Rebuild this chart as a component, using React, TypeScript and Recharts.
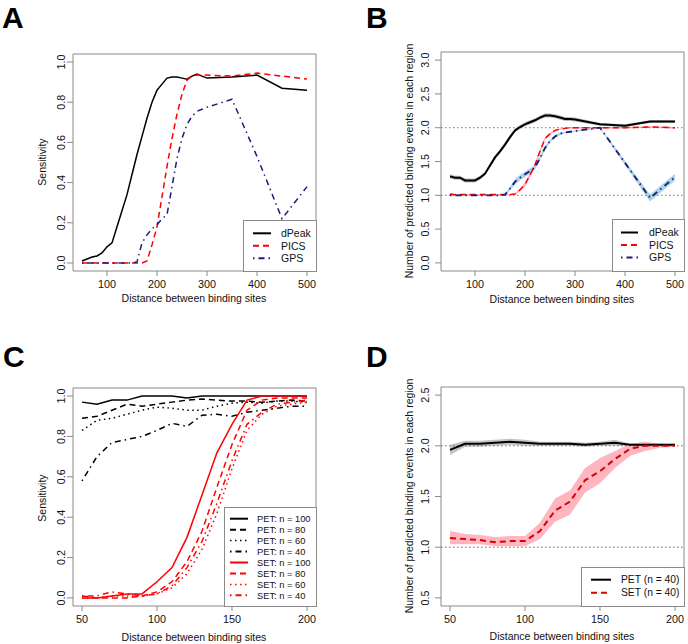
import React from "react";
import {
  ComposedChart,
  Line,
  Area,
  XAxis,
  YAxis,
  ReferenceArea,
  ReferenceLine,
} from "recharts";

const FONT = '"Liberation Sans", Arial, Helvetica, sans-serif';

// ---- panels A / B: distance 50..500 ----
const distAB = [50, 60, 70, 80, 90, 100, 110, 120, 130, 140, 150, 160, 170, 180, 190, 200, 210, 220, 230, 240, 250, 260, 270, 280, 290, 300, 350, 400, 450, 500];

const sensDPeak = [0.01, 0.02, 0.03, 0.035, 0.05, 0.08, 0.1, 0.18, 0.26, 0.34, 0.44, 0.54, 0.63, 0.72, 0.8, 0.86, 0.89, 0.92, 0.925, 0.925, 0.92, 0.915, 0.93, 0.94, 0.93, 0.92, 0.925, 0.935, 0.87, 0.86];
const sensPICS = [0, 0, 0, 0, 0, 0, 0, 0, 0, 0, 0, 0, 0, 0.01, 0.09, 0.18, 0.33, 0.48, 0.62, 0.74, 0.84, 0.91, 0.93, 0.935, 0.935, 0.935, 0.93, 0.945, 0.93, 0.915];
const sensGPS = [0, 0, 0, 0, 0, 0, 0, 0, 0, 0, 0, 0.005, 0.1, 0.14, 0.17, 0.19, 0.22, 0.24, 0.38, 0.52, 0.62, 0.69, 0.73, 0.755, 0.765, 0.775, 0.815, 0.53, 0.22, 0.38];

const numDPeak = [1.28, 1.26, 1.26, 1.22, 1.22, 1.22, 1.26, 1.32, 1.44, 1.56, 1.65, 1.75, 1.86, 1.96, 2.01, 2.05, 2.08, 2.11, 2.15, 2.18, 2.18, 2.17, 2.15, 2.13, 2.13, 2.12, 2.05, 2.03, 2.09, 2.09];
const numDPeakLo = [1.25, 1.23, 1.23, 1.19, 1.19, 1.19, 1.23, 1.29, 1.41, 1.53, 1.62, 1.72, 1.83, 1.93, 1.98, 2.02, 2.05, 2.08, 2.12, 2.15, 2.15, 2.14, 2.12, 2.1, 2.1, 2.09, 2.03, 2.01, 2.07, 2.07];
const numDPeakHi = [1.31, 1.29, 1.29, 1.25, 1.25, 1.25, 1.29, 1.35, 1.47, 1.59, 1.68, 1.78, 1.89, 1.99, 2.04, 2.08, 2.11, 2.14, 2.18, 2.21, 2.21, 2.2, 2.18, 2.16, 2.16, 2.15, 2.07, 2.05, 2.11, 2.11];
const numPICS = [1.02, 1.01, 1.01, 1.01, 1.01, 1.01, 1.01, 1.01, 1.01, 1.01, 1.01, 1.01, 1.01, 1.02, 1.08, 1.16, 1.3, 1.45, 1.65, 1.84, 1.91, 1.96, 1.98, 1.99, 2.0, 2.0, 2.0, 2.0, 2.01, 2.0];
const numPICSLo = [1.01, 1.0, 1.0, 1.0, 1.0, 1.0, 1.0, 1.0, 1.0, 1.0, 1.0, 1.0, 1.0, 1.01, 1.06, 1.13, 1.27, 1.42, 1.62, 1.82, 1.89, 1.95, 1.97, 1.98, 1.99, 1.99, 1.99, 1.99, 2.0, 1.99];
const numPICSHi = [1.03, 1.02, 1.02, 1.02, 1.02, 1.02, 1.02, 1.02, 1.02, 1.02, 1.02, 1.02, 1.02, 1.03, 1.1, 1.19, 1.33, 1.48, 1.68, 1.86, 1.93, 1.97, 1.99, 2.0, 2.01, 2.01, 2.01, 2.01, 2.02, 2.01];
const numGPS = [1.0, 1.0, 1.0, 1.0, 1.0, 1.0, 1.0, 1.0, 1.0, 1.0, 1.0, 1.01, 1.1, 1.2, 1.26, 1.31, 1.36, 1.41, 1.55, 1.7, 1.8, 1.87, 1.91, 1.93, 1.94, 1.95, 2.0, 1.48, 0.96, 1.27];
const numGPSLo = [0.99, 0.99, 0.99, 0.99, 0.99, 0.99, 0.99, 0.99, 0.99, 0.99, 0.99, 1.0, 1.07, 1.16, 1.22, 1.27, 1.32, 1.38, 1.52, 1.67, 1.78, 1.85, 1.89, 1.92, 1.93, 1.94, 1.99, 1.45, 0.91, 1.22];
const numGPSHi = [1.01, 1.01, 1.01, 1.01, 1.01, 1.01, 1.01, 1.01, 1.01, 1.01, 1.01, 1.02, 1.13, 1.24, 1.3, 1.35, 1.4, 1.44, 1.58, 1.73, 1.82, 1.89, 1.93, 1.94, 1.95, 1.96, 2.01, 1.51, 1.01, 1.32];

// ---- panels C / D: distance 50..200 ----
const distCD = [50, 60, 70, 80, 90, 100, 110, 120, 130, 140, 150, 160, 170, 180, 190, 200];

const pet100 = [0.97, 0.96, 0.98, 0.98, 1.0, 1.0, 1.0, 0.99, 1.0, 1.0, 1.0, 1.0, 1.0, 1.0, 1.0, 1.0];
const pet80 = [0.89, 0.9, 0.93, 0.96, 0.95, 0.96, 0.97, 0.98, 0.985, 0.98, 0.975, 0.975, 0.97, 0.975, 0.98, 0.975];
const pet60 = [0.83, 0.88, 0.89, 0.91, 0.93, 0.945, 0.94, 0.93, 0.93, 0.95, 0.965, 0.97, 0.965, 0.975, 0.975, 0.97];
const pet40 = [0.58, 0.7, 0.77, 0.785, 0.8, 0.83, 0.865, 0.85, 0.905, 0.91, 0.9, 0.92, 0.93, 0.94, 0.95, 0.95];
const set100 = [0.0, 0.0, 0.01, 0.02, 0.02, 0.08, 0.15, 0.3, 0.51, 0.72, 0.86, 0.98, 1.0, 1.0, 1.0, 1.0];
const set80 = [0.01, 0.0, 0.0, 0.0, 0.01, 0.03, 0.08, 0.18, 0.33, 0.55, 0.76, 0.93, 0.98, 0.99, 0.99, 0.99];
const set60 = [0.0, 0.0, 0.01, 0.01, 0.01, 0.02, 0.05, 0.12, 0.24, 0.42, 0.64, 0.83, 0.91, 0.95, 0.96, 0.97];
const set40 = [0.01, 0.01, 0.03, 0.02, 0.01, 0.02, 0.06, 0.15, 0.28, 0.47, 0.68, 0.86, 0.92, 0.96, 0.97, 0.98];

const petMean = [1.96, 2.02, 2.02, 2.03, 2.04, 2.03, 2.02, 2.02, 2.02, 2.01, 2.02, 2.03, 2.01, 2.01, 2.01, 2.01];
const petLo = [1.91, 1.99, 1.99, 2.0, 2.01, 2.0, 2.0, 2.0, 2.0, 1.99, 2.0, 2.0, 2.0, 2.0, 2.0, 2.0];
const petHi = [2.01, 2.05, 2.05, 2.06, 2.07, 2.06, 2.04, 2.04, 2.04, 2.03, 2.04, 2.06, 2.02, 2.02, 2.02, 2.02];
const setMean = [1.09, 1.08, 1.07, 1.05, 1.06, 1.06, 1.16, 1.36, 1.45, 1.66, 1.75, 1.87, 1.97, 2.0, 2.0, 2.0];
const setLo = [1.03, 1.03, 1.03, 1.01, 1.01, 1.01, 1.08, 1.25, 1.32, 1.54, 1.63, 1.78, 1.9, 1.95, 1.98, 1.99];
const setHi = [1.16, 1.13, 1.12, 1.1, 1.11, 1.11, 1.24, 1.48, 1.56, 1.78, 1.88, 1.95, 2.02, 2.04, 2.02, 2.01];

// ---- ticks ----
const ticksXAB = [100, 200, 300, 400, 500];
const ticksXCD = [50, 100, 150, 200];
const ticksSens = [0, 0.2, 0.4, 0.6, 0.8, 1.0];
const ticksNumB = [0, 0.5, 1, 1.5, 2, 2.5, 3];
const ticksNumD = [0.5, 1, 1.5, 2, 2.5];

const dataA = distAB.map((x, i) => ({ x, dPeak: sensDPeak[i], PICS: sensPICS[i], GPS: sensGPS[i] }));
const dataB = distAB.map((x, i) => ({
  x,
  dPeak: numDPeak[i],
  dPeakBand: [numDPeakLo[i], numDPeakHi[i]],
  PICS: numPICS[i],
  PICSBand: [numPICSLo[i], numPICSHi[i]],
  GPS: numGPS[i],
  GPSBand: [numGPSLo[i], numGPSHi[i]],
}));
const dataC = distCD.map((x, i) => ({
  x, p100: pet100[i], p80: pet80[i], p60: pet60[i], p40: pet40[i],
  s100: set100[i], s80: set80[i], s60: set60[i], s40: set40[i],
}));
const dataD = distCD.map((x, i) => ({
  x, pet: petMean[i], petBand: [petLo[i], petHi[i]], set: setMean[i], setBand: [setLo[i], setHi[i]],
}));

const BLACK = "#000";
const RED = "#ff0000";
const NAVY = "#1c1c80";
const BOX = "#8a8a8a";
const DASH = "6 4";
const DOT = "1.5 3.5";
const DOTDASH = "1.5 4 6 4";

const YTick = (props: any) => {
  const { x, y, payload } = props;
  return (
    <text x={x} y={y} transform={`rotate(-90 ${x} ${y})`} textAnchor="middle" fontSize={10.8} fill="#111" fontFamily={FONT}>
      {Number(payload.value).toFixed(1)}
    </text>
  );
};

type LegendItem = { label: string; color: string; dash?: string; width: number };
type OverlayProps = {
  letter: string;
  letterX: number;
  letterY: number;
  xTitleX: number;
  xTitleY: number;
  yTitle: string;
  yTitleX: number;
  yTitleY: number;
  legend: { left: number; top: number; width: number; height: number; row0: number; step: number; s1: number; s2: number; tx: number; fontSize: number; items: LegendItem[] };
};

function Overlay(p: OverlayProps) {
  const L = p.legend;
  return (
    <svg width={344} height={322} style={{ position: "absolute", left: 0, top: 0, pointerEvents: "none" }} fontFamily={FONT}>
      <text x={p.letterX} y={p.letterY} fontSize={30} fontWeight="bold" fill="#000">{p.letter}</text>
      <text x={p.xTitleX} y={p.xTitleY} fontSize={10.5} textAnchor="middle" fill="#111">Distance between binding sites</text>
      <text x={p.yTitleX} y={p.yTitleY} transform={`rotate(-90 ${p.yTitleX} ${p.yTitleY})`} fontSize={10.5} textAnchor="middle" fill="#111">{p.yTitle}</text>
      <rect x={L.left + 0.5} y={L.top + 0.5} width={L.width} height={L.height} fill="#fff" stroke={BOX} strokeWidth={1} />
      {L.items.map((it, i) => {
        const y = L.row0 + i * L.step;
        return (
          <g key={it.label}>
            <line x1={L.s1} x2={L.s2} y1={y} y2={y} stroke={it.color} strokeWidth={it.width} strokeDasharray={it.dash} />
            <text x={L.tx} y={y + L.fontSize * 0.36} fontSize={L.fontSize} fill="#111">{it.label}</text>
          </g>
        );
      })}
    </svg>
  );
}

const xAxisProps = {
  dataKey: "x",
  type: "number" as const,
  axisLine: false,
  tickLine: { stroke: BOX },
  tickSize: 5,
  tickMargin: 4,
  tick: { fontSize: 10.8, fill: "#111", fontFamily: FONT },
  interval: 0 as const,
};

function PanelA() {
  return (
    <div style={{ position: "absolute", left: 0, top: 0, width: 344, height: 322 }}>
      <ComposedChart width={344} height={322} data={dataA} margin={{ top: 54, right: 28, bottom: 0, left: 0 }}>
        <XAxis {...xAxisProps} domain={[32, 518]} ticks={ticksXAB} height={51} />
        <YAxis type="number" domain={[-0.04, 1.04]} ticks={ticksSens} width={73} axisLine={false} tickLine={{ stroke: BOX }} tickSize={6} tickMargin={2} tick={<YTick />} interval={0} />
        <ReferenceArea x1={32} x2={518} y1={-0.04} y2={1.04} fill="none" stroke={BOX} strokeWidth={1} ifOverflow="visible" />
        <Line dataKey="dPeak" stroke={BLACK} strokeWidth={1.5} dot={false} activeDot={false} isAnimationActive={false} />
        <Line dataKey="PICS" stroke={RED} strokeWidth={1.5} strokeDasharray={DASH} dot={false} activeDot={false} isAnimationActive={false} />
        <Line dataKey="GPS" stroke={NAVY} strokeWidth={1.5} strokeDasharray={DOTDASH} dot={false} activeDot={false} isAnimationActive={false} />
      </ComposedChart>
      <Overlay
        letter="A" letterX={2} letterY={28}
        xTitleX={194} xTitleY={302}
        yTitle="Sensitivity" yTitleX={45.5} yTitleY={162}
        legend={{ left: 243, top: 220, width: 73, height: 51, row0: 233.3, step: 12.5, s1: 253, s2: 271, tx: 281, fontSize: 10.5,
          items: [
            { label: "dPeak", color: BLACK, width: 2 },
            { label: "PICS", color: RED, dash: DASH, width: 2 },
            { label: "GPS", color: NAVY, dash: DOTDASH, width: 2 },
          ] }}
      />
    </div>
  );
}

function PanelB() {
  return (
    <div style={{ position: "absolute", left: 344, top: 0, width: 344, height: 322 }}>
      <ComposedChart width={344} height={322} data={dataB} margin={{ top: 52, right: 4, bottom: 0, left: 0 }}>
        <XAxis {...xAxisProps} domain={[32, 518]} ticks={ticksXAB} height={51} />
        <YAxis type="number" domain={[-0.12, 3.12]} ticks={ticksNumB} width={97} axisLine={false} tickLine={{ stroke: BOX }} tickSize={6} tickMargin={6} tick={<YTick />} interval={0} />
        <ReferenceArea x1={32} x2={518} y1={-0.12} y2={3.12} fill="none" stroke={BOX} strokeWidth={1} ifOverflow="visible" />
        <ReferenceLine y={1} stroke="#777" strokeDasharray="1.5 2.5" ifOverflow="visible" />
        <ReferenceLine y={2} stroke="#777" strokeDasharray="1.5 2.5" ifOverflow="visible" />
        <Area dataKey="dPeakBand" stroke="none" fill="#bdbdbd" fillOpacity={1} isAnimationActive={false} activeDot={false} />
        <Area dataKey="PICSBand" stroke="none" fill="#ffb0bd" fillOpacity={1} isAnimationActive={false} activeDot={false} />
        <Area dataKey="GPSBand" stroke="none" fill="#a9d4e8" fillOpacity={1} isAnimationActive={false} activeDot={false} />
        <Line dataKey="dPeak" stroke={BLACK} strokeWidth={2} dot={false} activeDot={false} isAnimationActive={false} />
        <Line dataKey="PICS" stroke={RED} strokeWidth={1.5} strokeDasharray={DASH} dot={false} activeDot={false} isAnimationActive={false} />
        <Line dataKey="GPS" stroke={NAVY} strokeWidth={1.8} strokeDasharray={DOTDASH} dot={false} activeDot={false} isAnimationActive={false} />
      </ComposedChart>
      <Overlay
        letter="B" letterX={22} letterY={28}
        xTitleX={218} xTitleY={302.5}
        yTitle="Number of predicted binding events in each region" yTitleX={69} yTitleY={161}
        legend={{ left: 268, top: 219, width: 72, height: 52, row0: 232.5, step: 12.5, s1: 277, s2: 294, tx: 305, fontSize: 10.5,
          items: [
            { label: "dPeak", color: BLACK, width: 2 },
            { label: "PICS", color: RED, dash: DASH, width: 2 },
            { label: "GPS", color: NAVY, dash: DOTDASH, width: 2 },
          ] }}
      />
    </div>
  );
}

function PanelC() {
  const series = [
    { key: "p100", color: BLACK, dash: undefined },
    { key: "p80", color: BLACK, dash: DASH },
    { key: "p60", color: BLACK, dash: DOT },
    { key: "p40", color: BLACK, dash: DOTDASH },
    { key: "s100", color: RED, dash: undefined },
    { key: "s80", color: RED, dash: DASH },
    { key: "s60", color: RED, dash: DOT },
    { key: "s40", color: RED, dash: DOTDASH },
  ];
  return (
    <div style={{ position: "absolute", left: 0, top: 322, width: 344, height: 322 }}>
      <ComposedChart width={344} height={322} data={dataC} margin={{ top: 66, right: 28, bottom: 0, left: 0 }}>
        <XAxis {...xAxisProps} domain={[44, 206]} ticks={ticksXCD} height={38} />
        <YAxis type="number" domain={[-0.04, 1.04]} ticks={ticksSens} width={73} axisLine={false} tickLine={{ stroke: BOX }} tickSize={6} tickMargin={2} tick={<YTick />} interval={0} />
        <ReferenceArea x1={44} x2={206} y1={-0.04} y2={1.04} fill="none" stroke={BOX} strokeWidth={1} ifOverflow="visible" />
        {series.map((s) => (
          <Line key={s.key} dataKey={s.key} stroke={s.color} strokeWidth={1.5} strokeDasharray={s.dash} dot={false} activeDot={false} isAnimationActive={false} />
        ))}
      </ComposedChart>
      <Overlay
        letter="C" letterX={3} letterY={45}
        xTitleX={194} xTitleY={318.5}
        yTitle="Sensitivity" yTitleX={45.5} yTitleY={176}
        legend={{ left: 224, top: 185, width: 92, height: 99, row0: 196.7, step: 10.95, s1: 230, s2: 248, tx: 257, fontSize: 9.3,
          items: [
            { label: "PET: n = 100", color: BLACK, width: 2 },
            { label: "PET: n = 80", color: BLACK, dash: DASH, width: 2 },
            { label: "PET: n = 60", color: BLACK, dash: DOT, width: 1.5 },
            { label: "PET: n = 40", color: BLACK, dash: DOTDASH, width: 2 },
            { label: "SET: n = 100", color: RED, width: 2 },
            { label: "SET: n = 80", color: RED, dash: DASH, width: 2 },
            { label: "SET: n = 60", color: RED, dash: DOT, width: 1.5 },
            { label: "SET: n = 40", color: RED, dash: DOTDASH, width: 2 },
          ] }}
      />
    </div>
  );
}

function PanelD() {
  return (
    <div style={{ position: "absolute", left: 344, top: 322, width: 344, height: 322 }}>
      <ComposedChart width={344} height={322} data={dataD} margin={{ top: 65, right: 4, bottom: 0, left: 0 }}>
        <XAxis {...xAxisProps} domain={[44, 206]} ticks={ticksXCD} height={38} />
        <YAxis type="number" domain={[0.42, 2.58]} ticks={ticksNumD} width={97} axisLine={false} tickLine={{ stroke: BOX }} tickSize={6} tickMargin={6} tick={<YTick />} interval={0} />
        <ReferenceArea x1={44} x2={206} y1={0.42} y2={2.58} fill="none" stroke={BOX} strokeWidth={1} ifOverflow="visible" />
        <Area dataKey="petBand" stroke="none" fill="#c4c4c4" fillOpacity={1} isAnimationActive={false} activeDot={false} />
        <Area dataKey="setBand" stroke="none" fill="#ffb6c1" fillOpacity={1} isAnimationActive={false} activeDot={false} />
        <ReferenceLine y={1} stroke="#666" strokeDasharray="1.5 2.5" ifOverflow="visible" />
        <ReferenceLine y={2} stroke="#666" strokeDasharray="1.5 2.5" ifOverflow="visible" />
        <Line dataKey="pet" stroke={BLACK} strokeWidth={2} dot={false} activeDot={false} isAnimationActive={false} />
        <Line dataKey="set" stroke="#d80000" strokeWidth={2} strokeDasharray={DASH} dot={false} activeDot={false} isAnimationActive={false} />
      </ComposedChart>
      <Overlay
        letter="D" letterX={22} letterY={45}
        xTitleX={218} xTitleY={317.5}
        yTitle="Number of predicted binding events in each region" yTitleX={69} yTitleY={174}
        legend={{ left: 237, top: 245, width: 103, height: 39, row0: 257.7, step: 13, s1: 247, s2: 267, tx: 277, fontSize: 10.3,
          items: [
            { label: "PET (n = 40)", color: BLACK, width: 2 },
            { label: "SET (n = 40)", color: "#d80000", dash: DASH, width: 2 },
          ] }}
      />
    </div>
  );
}

export default function App() {
  return (
    <div style={{ position: "absolute", left: 0, top: 0, width: 688, height: 644, background: "#fff", fontFamily: FONT }}>
      <PanelA />
      <PanelB />
      <PanelC />
      <PanelD />
    </div>
  );
}
